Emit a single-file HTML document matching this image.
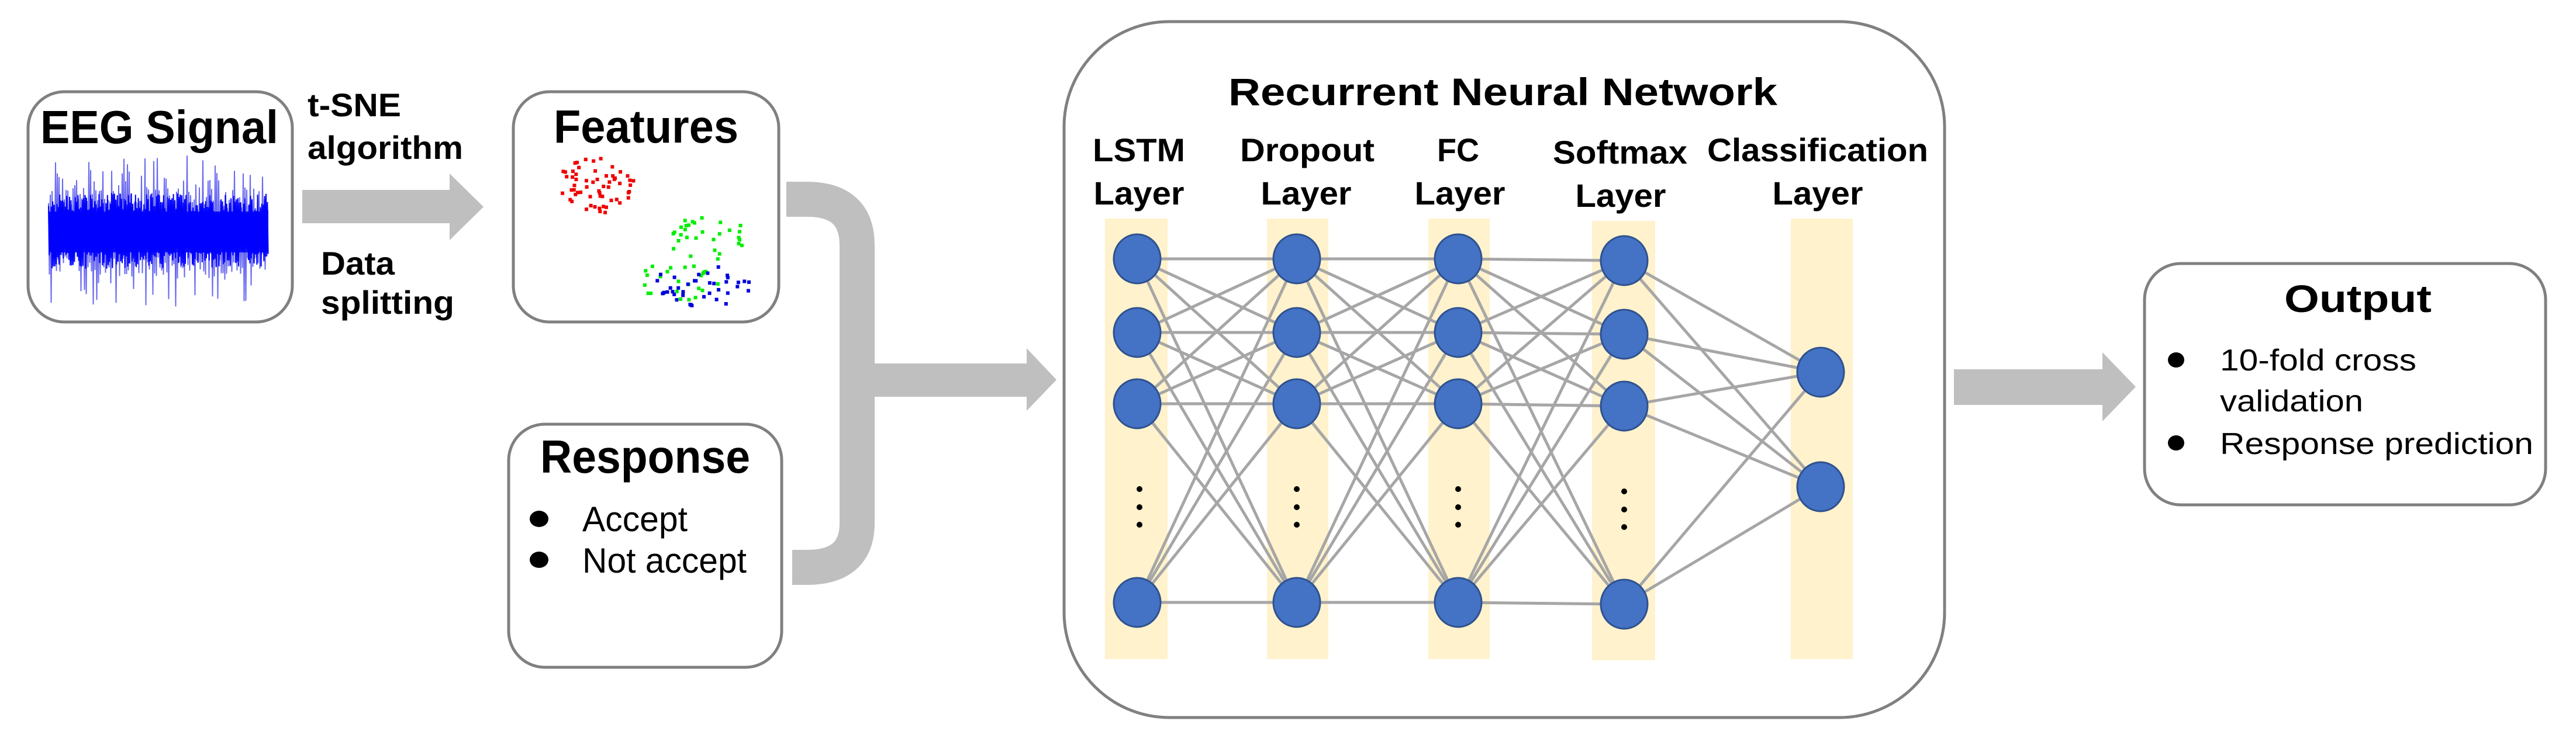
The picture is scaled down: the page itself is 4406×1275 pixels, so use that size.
<!DOCTYPE html>
<html><head><meta charset="utf-8"><style>
html,body{margin:0;padding:0;background:#fff;}
svg{display:block;}
text{font-family:"Liberation Sans",Arial,sans-serif;fill:#000;}
.b{font-weight:bold;}
</style></head><body>
<svg id="s" width="4406" height="1275" viewBox="0 0 4406 1275" xmlns="http://www.w3.org/2000/svg">
<rect width="4406" height="1275" fill="#fff"/>
<rect x="48" y="157" width="452" height="394" rx="62" fill="#fff" stroke="#808080" stroke-width="5"/>
<text x="69" y="245" class="b" font-size="80" textLength="407" lengthAdjust="spacingAndGlyphs">EEG Signal</text>
<g id="sig"></g>
<polygon points="517,325 769,325 769,297 827,354 769,411 769,382 517,382" fill="#bfbfbf"/>
<text x="526" y="199" class="b" font-size="56" textLength="160" lengthAdjust="spacingAndGlyphs">t-SNE</text>
<text x="526" y="272" class="b" font-size="56" textLength="266" lengthAdjust="spacingAndGlyphs">algorithm</text>
<text x="549" y="470" class="b" font-size="56" textLength="126" lengthAdjust="spacingAndGlyphs">Data</text>
<text x="549" y="537" class="b" font-size="56" textLength="228" lengthAdjust="spacingAndGlyphs">splitting</text>
<rect x="878" y="157" width="454" height="394" rx="62" fill="#fff" stroke="#808080" stroke-width="5"/>
<text x="947" y="244" class="b" font-size="80" textLength="316" lengthAdjust="spacingAndGlyphs">Features</text>
<g id="scat"></g>
<rect x="870" y="726" width="467" height="416" rx="62" fill="#fff" stroke="#808080" stroke-width="5"/>
<text x="924" y="809" class="b" font-size="80" textLength="359" lengthAdjust="spacingAndGlyphs">Response</text>
<ellipse cx="922" cy="888" rx="16" ry="14" fill="#000"/>
<ellipse cx="922" cy="958" rx="16" ry="14" fill="#000"/>
<text x="996" y="909" font-size="60" textLength="180" lengthAdjust="spacingAndGlyphs">Accept</text>
<text x="996" y="980" font-size="60" textLength="281" lengthAdjust="spacingAndGlyphs">Not accept</text>
<path d="M1345,341 H1380 Q1466,341 1466,420 V895 Q1466,971 1380,971 H1355" fill="none" stroke="#bfbfbf" stroke-width="60"/>
<polygon points="1496,622 1756,622 1756,596 1807,650 1756,703 1756,679 1496,679" fill="#bfbfbf"/>
<rect x="1820" y="37" width="1506" height="1191" rx="180" fill="#fff" stroke="#808080" stroke-width="5"/>
<text x="2101" y="180" class="b" font-size="66" textLength="939" lengthAdjust="spacingAndGlyphs">Recurrent Neural Network</text>
<g class="b" font-size="56" text-anchor="middle">
<text x="1948" y="276" textLength="158" lengthAdjust="spacingAndGlyphs">LSTM</text>
<text x="1948" y="350" textLength="155" lengthAdjust="spacingAndGlyphs">Layer</text>
<text x="2236" y="276" textLength="230" lengthAdjust="spacingAndGlyphs">Dropout</text>
<text x="2234" y="350" textLength="155" lengthAdjust="spacingAndGlyphs">Layer</text>
<text x="2494" y="276" textLength="72" lengthAdjust="spacingAndGlyphs">FC</text>
<text x="2497" y="350" textLength="155" lengthAdjust="spacingAndGlyphs">Layer</text>
<text x="2771" y="280" textLength="230" lengthAdjust="spacingAndGlyphs">Softmax</text>
<text x="2772" y="354" textLength="155" lengthAdjust="spacingAndGlyphs">Layer</text>
<text x="3109" y="276" textLength="378" lengthAdjust="spacingAndGlyphs">Classification</text>
<text x="3109" y="350" textLength="155" lengthAdjust="spacingAndGlyphs">Layer</text>
</g>
<g fill="#fff2cc">
<rect x="1890" y="374" width="107" height="754"/>
<rect x="2167" y="374" width="105" height="754"/>
<rect x="2443" y="374" width="105" height="754"/>
<rect x="2723" y="378" width="108" height="752"/>
<rect x="3063" y="374" width="106" height="754"/>
</g>
<g id="edges" stroke="#a6a6a6" stroke-width="5"></g>
<g id="nodes" fill="#4472c4" stroke="#2f528f" stroke-width="3"></g>
<g id="dots" fill="#000"></g>
<polygon points="3342,632 3596,632 3596,603 3653,662 3596,721 3596,693 3342,693" fill="#bfbfbf"/>
<rect x="3668" y="451" width="686" height="413" rx="62" fill="#fff" stroke="#808080" stroke-width="5"/>
<text x="4033" y="534" class="b" font-size="66" text-anchor="middle" textLength="252" lengthAdjust="spacingAndGlyphs">Output</text>
<ellipse cx="3722" cy="616" rx="14" ry="13" fill="#000"/>
<ellipse cx="3722" cy="758" rx="14" ry="13" fill="#000"/>
<text x="3797" y="634" font-size="52" textLength="336" lengthAdjust="spacingAndGlyphs">10-fold cross</text>
<text x="3797" y="704" font-size="52" textLength="245" lengthAdjust="spacingAndGlyphs">validation</text>
<text x="3797" y="777" font-size="52" textLength="536" lengthAdjust="spacingAndGlyphs">Response prediction</text>
</svg>
<script>
(function(){
var NS="http://www.w3.org/2000/svg";
function el(p,t,a){var e=document.createElementNS(NS,t);for(var k in a)e.setAttribute(k,a[k]);p.appendChild(e);return e;}
var seed=12345;function r(){seed=(seed*1103515245+12345)%2147483648;return seed/2147483648;}
var sg=document.getElementById('sig');
var pts=[];for(var x=83;x<=459;x+=1.5){var up=(pts.length%2==0);var amp=(r()<0.3)?(70+r()*60):(35+r()*40);pts.push(x.toFixed(1)+","+(395+(up?-1:1)*amp).toFixed(1));}
el(sg,'polyline',{points:pts.join(' '),fill:'none',stroke:'#6a6af0','stroke-width':2});
el(sg,'rect',{x:83,y:362,width:376,height:70,fill:'#1010ff'});
var pts2=[];for(var x=83;x<=459;x+=1.2){var up=(pts2.length%2==0);pts2.push(x.toFixed(1)+","+(395+(up?-1:1)*(30+r()*35)).toFixed(1));}
el(sg,'polyline',{points:pts2.join(' '),fill:'none',stroke:'#0000ff','stroke-width':2});
var sc=document.getElementById('scat');
function cl(cx,cy,rx,ry,n,c){for(var i=0;i<n;i++){var t=r()*6.283,d=Math.sqrt(r());el(sc,'rect',{x:(cx+Math.cos(t)*d*rx-3).toFixed(1),y:(cy+Math.sin(t)*d*ry-3).toFixed(1),width:6,height:6,fill:c});}}
cl(1018,318,68,48,60,'#ee0000');
cl(1210,405,72,40,30,'#00ee00');
cl(1160,480,75,35,25,'#00ee00');
cl(1200,490,85,38,38,'#0000dd');
var X=[1945,2218,2494,2778,3114];
var Y=[443,569,691,1031];var YS=[446,572,695,1034];var YC=[637,833];
var cols=[Y,Y,Y,YS,YC];
var eg=document.getElementById('edges');
for(var i=0;i<4;i++){var A=cols[i],B=cols[i+1];for(var a=0;a<A.length;a++)for(var b=0;b<B.length;b++)el(eg,'line',{x1:X[i],y1:A[a],x2:X[i+1],y2:B[b]});}
var ng=document.getElementById('nodes');
for(var i=0;i<5;i++)cols[i].forEach(function(y){el(ng,'ellipse',{cx:X[i],cy:y,rx:40,ry:42});});
var dg=document.getElementById('dots');
for(var i=0;i<4;i++)[837,868,898].forEach(function(y){el(dg,'circle',{cx:X[i]+(i==0?4:0),cy:y+(i==3?4:0),r:5});});
})();
</script>
</body></html>
